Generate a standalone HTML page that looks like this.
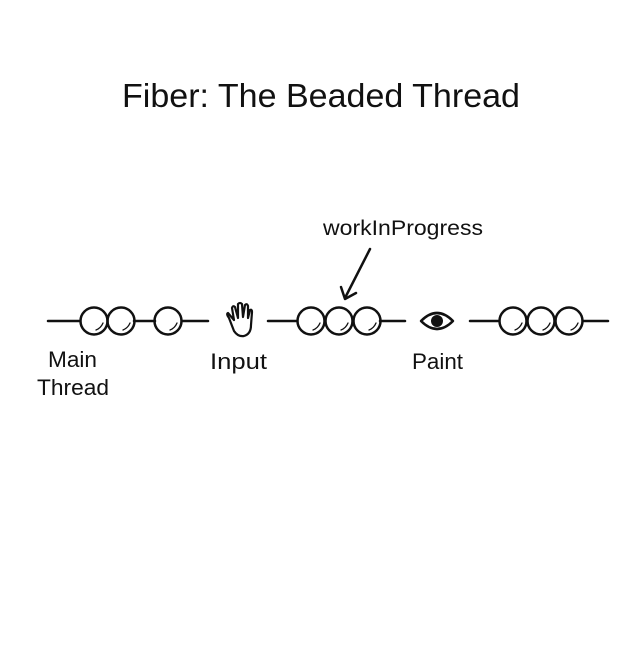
<!DOCTYPE html>
<html><head><meta charset="utf-8"><style>html,body{margin:0;padding:0;background:#fff}</style></head>
<body>
<svg width="640" height="640" viewBox="0 0 640 640" xmlns="http://www.w3.org/2000/svg" font-family="Liberation Sans, sans-serif" fill="#111">
<rect width="640" height="640" fill="#fff"/>
<text x="122" y="107" font-size="33" textLength="398" lengthAdjust="spacingAndGlyphs">Fiber: The Beaded Thread</text>
<text x="323" y="235" font-size="21" textLength="160" lengthAdjust="spacingAndGlyphs">workInProgress</text>
<g stroke="#111" stroke-width="2.5" fill="none" stroke-linecap="round" stroke-linejoin="round">
<line x1="370" y1="249" x2="345" y2="298"/>
<polyline points="341,287 345,299 356,293"/>
<line x1="48" y1="321" x2="80" y2="321"/>
<line x1="134" y1="321" x2="155" y2="321"/>
<line x1="182" y1="321" x2="208" y2="321"/>
<line x1="268" y1="321" x2="297" y2="321"/>
<line x1="380" y1="321" x2="405" y2="321"/>
<line x1="470" y1="321" x2="499" y2="321"/>
<line x1="583" y1="321" x2="608" y2="321"/>
<circle cx="94" cy="321" r="13.5"/><circle cx="121" cy="321" r="13.5"/><circle cx="168" cy="321" r="13.5"/>
<circle cx="311" cy="321" r="13.5"/><circle cx="339" cy="321" r="13.5"/><circle cx="367" cy="321" r="13.5"/>
<circle cx="513" cy="321" r="13.5"/><circle cx="541" cy="321" r="13.5"/><circle cx="569" cy="321" r="13.5"/>
<path d="M421,321 Q437,305 453,321 Q437,337 421,321 Z"/>
<path d="M229,318 Q226,314 228,313 L234,320 L232,308 Q233,305 235,307 L238,318 L238,304 Q240,302 242,304 L243,317 L245,305 Q247,303 248,306 L248,318 L250,310 Q252,309 252,312 L251,325 Q251,334 244,336 Q238,337 234,331 Z" stroke-width="2.2"/>
</g>
<circle cx="437" cy="321" r="6" fill="#111"/>
<g stroke="#111" stroke-width="1.3" fill="none" stroke-linecap="round">
<path d="M96,330 Q101,328 103,323"/><path d="M123,330 Q128,328 130,323"/><path d="M170,330 Q175,328 177,323"/>
<path d="M313,330 Q318,328 320,323"/><path d="M341,330 Q346,328 348,323"/><path d="M369,330 Q374,328 376,323"/>
<path d="M515,330 Q520,328 522,323"/><path d="M543,330 Q548,328 550,323"/><path d="M571,330 Q576,328 578,323"/>
</g>
<g font-size="22">
<text x="48" y="367" textLength="49" lengthAdjust="spacingAndGlyphs">Main</text>
<text x="37" y="395" textLength="72" lengthAdjust="spacingAndGlyphs">Thread</text>
<text x="210" y="369" textLength="57" lengthAdjust="spacingAndGlyphs">Input</text>
<text x="412" y="369" textLength="51" lengthAdjust="spacingAndGlyphs">Paint</text>
</g>
</svg>
</body></html>
